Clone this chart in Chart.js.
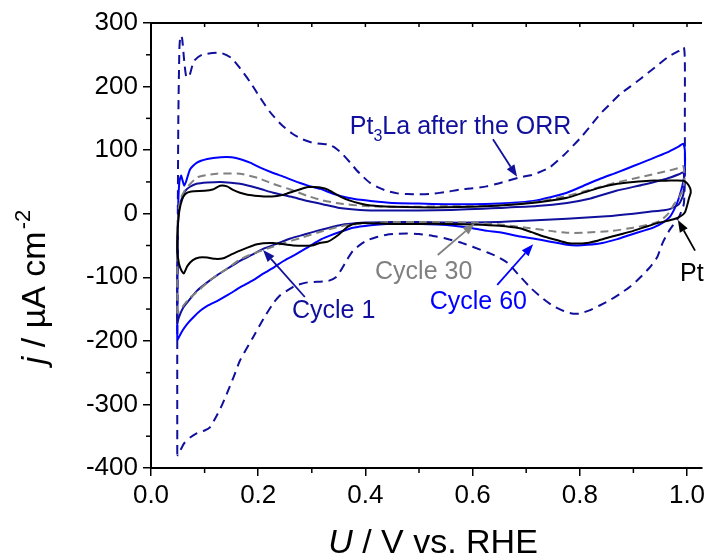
<!DOCTYPE html>
<html><head><meta charset="utf-8">
<script src="https://cdn.jsdelivr.net/npm/chart.js@4.4.1/dist/chart.umd.min.js"></script>
<style>html,body{margin:0;padding:0;background:#fff;}canvas{display:block;}</style>
</head><body>
<canvas id="c" width="710" height="557"></canvas>
<script>
// ---- axis ticks ----
const xTicks = [0, 0.2, 0.4, 0.6, 0.8, 1.0];
const yTicks = [-400, -300, -200, -100, 0, 100, 200, 300];
const xMinor = [0.1, 0.3, 0.5, 0.7, 0.9];
const yMinor = [-350, -250, -150, -50, 50, 150, 250];

// ---- series: [U (V vs RHE), j (uA cm^-2)] ----
const pt3laORR = [
 [0.049,-378],[0.049,-200],[0.050,0],[0.051,150],[0.053,260],[0.055,280],[0.058,276],[0.062,240],[0.066,215],
 [0.072,218],[0.080,240],[0.095,250],[0.130,253],[0.150,245],[0.166,229],[0.185,207],[0.204,182],[0.222,160],
 [0.242,141],[0.262,127],[0.280,118],[0.300,112],[0.317,110],[0.330,109],[0.343,104],[0.357,94],[0.372,80],
 [0.384,68],[0.396,58],[0.408,49],[0.425,41],[0.440,36],[0.460,32],[0.478,31],[0.500,30.5],[0.520,31],
 [0.550,34],[0.576,38],[0.600,40],[0.626,43],[0.650,48],[0.688,57],[0.715,62],[0.744,73],[0.770,92],
 [0.800,118],[0.820,138],[0.838,157],[0.857,173],[0.875,188],[0.894,200],[0.913,212],[0.940,230],[0.967,248],
 [0.985,256],[0.994,262],[0.996,240],[0.996,150],[0.996,60],[0.994,15],[0.985,-5],[0.968,-25],[0.955,-45],
 [0.944,-69],[0.930,-85],[0.913,-100],[0.895,-114],[0.875,-126],[0.856,-136],[0.838,-144],[0.818,-152],
 [0.800,-157],[0.785,-157],[0.770,-153],[0.750,-145],[0.732,-134],[0.710,-118],[0.690,-100],[0.665,-77],
 [0.645,-67],[0.628,-61],[0.600,-52],[0.576,-45],[0.550,-39],[0.526,-35],[0.500,-32],[0.478,-31],[0.460,-31.5],
 [0.440,-33],[0.420,-37],[0.403,-42],[0.390,-49],[0.377,-58],[0.366,-72],[0.355,-88],[0.345,-100],[0.330,-106],
 [0.310,-107],[0.292,-108],[0.270,-113],[0.254,-121],[0.240,-129],[0.228,-141],[0.210,-165],[0.190,-195],
 [0.166,-231],[0.155,-255],[0.144,-278],[0.133,-300],[0.123,-317],[0.110,-336],[0.100,-341],[0.086,-345],
 [0.073,-352],[0.062,-361],[0.055,-372],[0.050,-380],[0.049,-378]
];
const cycle60 = [
 [0.049,-199],[0.049,-120],[0.050,-40],[0.051,20],[0.053,50],[0.056,60],[0.059,52],[0.062,44],[0.066,52],
 [0.073,70],[0.085,80],[0.105,86],[0.130,89],[0.150,89],[0.170,85],[0.186,80],[0.205,72],[0.228,64],[0.248,58],
 [0.266,52],[0.290,45],[0.316,39],[0.335,33],[0.353,28],[0.380,23],[0.410,20],[0.450,17],[0.500,16],[0.550,15],
 [0.600,15],[0.650,16],[0.690,18],[0.713,20],[0.745,26],[0.776,33],[0.807,44],[0.838,55],[0.870,65],[0.900,75],
 [0.930,85],[0.962,96],[0.985,106],[0.993,110],[0.996,100],[0.996,70],[0.993,50],[0.985,25],[0.978,10],
 [0.968,-5],[0.955,-14],[0.937,-22],[0.918,-27],[0.895,-33],[0.870,-40],[0.842,-46],[0.814,-49],[0.795,-50],
 [0.776,-49],[0.745,-44],[0.713,-39],[0.690,-36],[0.650,-29],[0.628,-27],[0.600,-23],[0.565,-19],[0.535,-17],
 [0.503,-16],[0.470,-16],[0.440,-16],[0.410,-18],[0.377,-22],[0.355,-28],[0.335,-34],[0.318,-40],[0.294,-52],
 [0.270,-64],[0.248,-74],[0.230,-84],[0.210,-94],[0.190,-105],[0.166,-116],[0.145,-127],[0.124,-137],
 [0.105,-145],[0.093,-152],[0.080,-162],[0.068,-173],[0.058,-185],[0.051,-196],[0.049,-199]
];
const cycle1 = [
 [0.049,-173],[0.049,-100],[0.050,-40],[0.051,0],[0.054,15],[0.058,25],[0.064,36],[0.072,42],[0.085,47],
 [0.105,49],[0.130,50],[0.166,47],[0.200,40],[0.228,33],[0.260,27],[0.292,20],[0.320,15],[0.352,9],[0.390,6],
 [0.440,5],[0.500,5],[0.560,6],[0.620,8],[0.650,9],[0.720,12],[0.776,17],[0.820,24],[0.868,36],[0.920,46],
 [0.962,55],[0.985,62],[0.993,65],[0.995,50],[0.993,30],[0.985,15],[0.970,8],[0.960,6],[0.930,3],[0.900,0],
 [0.850,-4],[0.776,-8],[0.700,-11],[0.650,-13],[0.600,-14],[0.550,-14],[0.500,-13],[0.450,-13],[0.400,-14],
 [0.352,-18],[0.310,-27],[0.285,-33],[0.260,-39],[0.235,-47],[0.210,-55],[0.190,-64],[0.166,-74],[0.145,-85],
 [0.123,-97],[0.105,-108],[0.086,-121],[0.072,-135],[0.060,-148],[0.052,-163],[0.049,-173]
];
const cycle30 = [
 [0.049,-157],[0.049,-80],[0.050,-20],[0.052,10],[0.056,25],[0.062,35],[0.070,44],[0.086,57],[0.105,61],
 [0.123,63],[0.166,63],[0.200,56],[0.228,47],[0.260,38],[0.292,28],[0.320,21],[0.352,16],[0.400,12],[0.450,11],
 [0.500,11],[0.550,12],[0.600,12],[0.650,13],[0.720,19],[0.776,28],[0.820,38],[0.868,49],[0.915,58],[0.962,67],
 [0.985,72],[0.993,75],[0.995,60],[0.993,40],[0.985,25],[0.976,15],[0.965,0],[0.950,-11],[0.930,-17],[0.900,-22],
 [0.860,-27],[0.807,-30],[0.776,-30],[0.745,-27],[0.700,-22],[0.650,-17],[0.600,-14],[0.550,-13],[0.500,-13],
 [0.450,-13],[0.400,-15],[0.352,-20],[0.310,-30],[0.280,-38],[0.248,-46],[0.220,-54],[0.190,-63],[0.166,-72],
 [0.143,-86],[0.123,-97],[0.105,-108],[0.090,-120],[0.073,-132],[0.060,-145],[0.052,-154],[0.049,-157]
];
const ptRef = [
 [0.049,-40],[0.050,-20],[0.053,5],[0.058,22],[0.064,31],[0.075,35],[0.100,36],[0.115,38],[0.129,44],[0.142,43],
 [0.152,38],[0.166,33],[0.180,30],[0.200,28],[0.218,27],[0.235,28],[0.248,30],[0.265,35],[0.280,39],[0.293,42],
 [0.304,42],[0.318,41],[0.330,38],[0.340,33],[0.353,27],[0.370,21],[0.390,16],[0.410,13],[0.450,11],[0.500,10],
 [0.550,10],[0.600,11],[0.650,13],[0.700,16],[0.740,20],[0.776,25],[0.810,34],[0.838,41],[0.870,47],[0.900,50],
 [0.930,52],[0.960,52],[0.993,52],[1.000,48],[1.006,40],[1.007,33],[1.004,25],[1.000,12],[0.996,2],[0.988,-4],
 [0.978,-8],[0.960,-12],[0.948,-14],[0.925,-20],[0.900,-27],[0.878,-32],[0.855,-37],[0.835,-42],[0.813,-46],
 [0.795,-47],[0.776,-46],[0.755,-41],[0.730,-35],[0.710,-29],[0.688,-23],[0.650,-19],[0.600,-17],[0.550,-16],
 [0.500,-16],[0.450,-16],[0.410,-15],[0.385,-15],[0.368,-20],[0.350,-33],[0.330,-44],[0.315,-46],[0.300,-50],
 [0.265,-50],[0.228,-46],[0.198,-48],[0.166,-58],[0.150,-64],[0.135,-70],[0.120,-71],[0.105,-69],[0.090,-69],
 [0.078,-73],[0.068,-82],[0.061,-94],[0.056,-88],[0.052,-78],[0.049,-58],[0.049,-40]
];

// ---- annotations (data coordinates) ----
const notes = [
  {parts:[['Pt',0],['3',1],['La after the ORR',0]], u:0.371, j:125, color:'#10109c', from:[0.638,117], to:[0.683,58]},
  {parts:[['Cycle 30',0]], u:0.418, j:-103, color:'#808080', from:[0.535,-65], to:[0.604,-15]},
  {parts:[['Cycle 60',0]], u:0.520, j:-150, color:'#0000ff', from:[0.646,-112], to:[0.713,-48]},
  {parts:[['Cycle 1',0]], u:0.263, j:-164, color:'#10109c', from:[0.287,-131], to:[0.209,-57]},
  {parts:[['Pt',0]], u:0.987, j:-106, color:'#000000', from:[1.015,-58], to:[0.983,-10]}
];

const FONT = '"Liberation Sans", Arial, Helvetica, sans-serif';
const toXY = a => a.map(p => ({x:p[0], y:p[1]}));

function ds(label, arr, color, dash) {
  return {label, data: toXY(arr), borderColor: color, backgroundColor: color, borderWidth: 2,
    borderDash: dash || [], showLine: true, pointRadius: 0, tension: 0.2, fill: false};
}

const framePlugin = {
  id: 'frame',
  afterDraw(chart) {
    const c = chart.ctx, xs = chart.scales.x, ys = chart.scales.y, a = chart.chartArea;
    c.save();
    c.strokeStyle = '#000'; c.lineWidth = 1.5;
    // minor ticks
    xMinor.forEach(v => { const px = xs.getPixelForValue(v); c.beginPath(); c.moveTo(px, a.bottom); c.lineTo(px, a.bottom + 5); c.stroke(); });
    yMinor.forEach(v => { const py = ys.getPixelForValue(v); c.beginPath(); c.moveTo(a.left, py); c.lineTo(a.left - 5, py); c.stroke(); });
    // top frame line with inward ticks
    c.lineWidth = 2;
    c.beginPath(); c.moveTo(a.left - 1, a.top); c.lineTo(a.right, a.top); c.stroke();
    c.lineWidth = 1.5;
    xTicks.concat(xMinor).forEach(v => { const px = xs.getPixelForValue(v); c.beginPath(); c.moveTo(px, a.top); c.lineTo(px, a.top + 4); c.stroke(); });
    // axis titles
    c.fillStyle = '#000';
    const F = 34;
    const s1 = 'U', s2 = ' / V vs. RHE';
    c.font = 'italic ' + F + 'px ' + FONT; const w1 = c.measureText(s1).width;
    c.font = F + 'px ' + FONT; const w2 = c.measureText(s2).width;
    let x0 = 433 - (w1 + w2) / 2; const yb = 553;
    c.textBaseline = 'alphabetic'; c.textAlign = 'left';
    c.font = 'italic ' + F + 'px ' + FONT; c.fillText(s1, x0, yb);
    c.font = F + 'px ' + FONT; c.fillText(s2, x0 + w1, yb);
    // y title (rotated)
    c.save();
    c.translate(45, 287); c.rotate(-Math.PI / 2);
    const t1 = 'j', t2 = ' / µA cm', t3 = '-2';
    const Fs = 22;
    c.font = 'italic ' + F + 'px ' + FONT; const v1 = c.measureText(t1).width;
    c.font = F + 'px ' + FONT; const v2 = c.measureText(t2).width;
    c.font = Fs + 'px ' + FONT; const v3 = c.measureText(t3).width;
    let s = -(v1 + v2 + v3 + 2) / 2;
    c.font = 'italic ' + F + 'px ' + FONT; c.fillText(t1, s, 0);
    c.font = F + 'px ' + FONT; c.fillText(t2, s + v1, 0);
    c.font = Fs + 'px ' + FONT; c.fillText(t3, s + v1 + v2 + 2, -F * 0.45);
    c.restore();
    c.restore();
  }
};

const notePlugin = {
  id: 'notes',
  afterDatasetsDraw(chart) {
    const c = chart.ctx, xs = chart.scales.x, ys = chart.scales.y;
    c.save();
    const F = 25;
    notes.forEach(n => {
      let x = xs.getPixelForValue(n.u); const y = ys.getPixelForValue(n.j);
      c.fillStyle = n.color; c.textAlign = 'left'; c.textBaseline = 'alphabetic';
      n.parts.forEach(([t, sub]) => {
        if (sub) { c.font = Math.round(F * 0.62) + 'px ' + FONT; c.fillText(t, x, y + F * 0.25); }
        else { c.font = F + 'px ' + FONT; c.fillText(t, x, y); }
        x += c.measureText(t).width;
      });
      // arrow
      const x1 = xs.getPixelForValue(n.from[0]), y1 = ys.getPixelForValue(n.from[1]);
      const x2 = xs.getPixelForValue(n.to[0]), y2 = ys.getPixelForValue(n.to[1]);
      const ang = Math.atan2(y2 - y1, x2 - x1), L = 12, W = 4.5;
      const bx = x2 - L * Math.cos(ang), by = y2 - L * Math.sin(ang);
      c.strokeStyle = n.color; c.lineWidth = 1.8;
      c.beginPath(); c.moveTo(x1, y1); c.lineTo(bx, by); c.stroke();
      c.beginPath(); c.moveTo(x2, y2);
      c.lineTo(bx + W * Math.sin(ang), by - W * Math.cos(ang));
      c.lineTo(bx - W * Math.sin(ang), by + W * Math.cos(ang));
      c.closePath(); c.fill();
    });
    c.restore();
  }
};

const axisCommon = {
  grid: {display: true, drawOnChartArea: false, drawTicks: true, tickLength: 8, color: '#000', lineWidth: 1.5},
  border: {display: true, color: '#000', width: 2}
};

new Chart(document.getElementById('c'), {
  type: 'scatter',
  data: {datasets: [
    ds('Pt', ptRef, '#000000'),
    ds('Cycle 30', cycle30, '#808080', [8, 5]),
    ds('Cycle 1', cycle1, '#10109c'),
    ds('Cycle 60', cycle60, '#0000ff'),
    ds('Pt3La after the ORR', pt3laORR, '#10109c', [9, 6])
  ]},
  options: {
    responsive: false, animation: false, devicePixelRatio: 1,
    layout: {padding: {top: 23, right: 8, left: 0, bottom: 0}},
    plugins: {legend: {display: false}, tooltip: {enabled: false}},
    scales: {
      x: Object.assign({}, axisCommon, {
        type: 'linear', min: 0, max: 1.028,
        afterBuildTicks: s => { s.ticks = xTicks.map(v => ({value: v})); },
        afterFit: s => { s.height = 89; },
        ticks: {font: {family: FONT, size: 26}, color: '#000', padding: 4, maxRotation: 0,
          callback: v => Number(v).toFixed(1)}
      }),
      y: Object.assign({}, axisCommon, {
        type: 'linear', min: -400, max: 300,
        afterBuildTicks: s => { s.ticks = yTicks.map(v => ({value: v})); },
        afterFit: s => { s.width = 151; },
        ticks: {font: {family: FONT, size: 26}, color: '#000', padding: 5,
          callback: v => String(v)}
      })
    }
  },
  plugins: [notePlugin, framePlugin]
});
</script>
</body></html>
